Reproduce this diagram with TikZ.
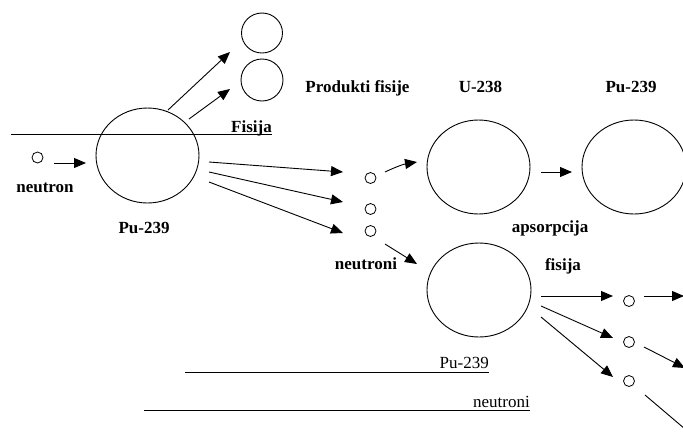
\documentclass[tikz,border=0pt]{standalone}
\usepackage{fontspec}
\setmainfont{Liberation Serif}
\usetikzlibrary{arrows.meta,shapes.geometric}
\begin{document}
\begin{tikzpicture}[x=1pt,y=-1pt,
  atom/.style={draw,ellipse,inner sep=0pt,line width=0.9pt},
  neu/.style={draw,circle,inner sep=0pt,minimum size=11pt,line width=0.8pt},
  arr/.style={-{Triangle[length=12pt,width=10pt]},line width=0.9pt},
  lbl/.style={font=\fontsize{17}{20}\selectfont\bfseries,anchor=base,inner sep=0pt},
  rlbl/.style={font=\fontsize{17}{20}\selectfont,anchor=base,inner sep=0pt},
  rule/.style={line width=0.9pt}]
\useasboundingbox (0,0) rectangle (683,437);
\clip (0,0) rectangle (683,437);
% atoms
\node[atom,minimum width=103pt,minimum height=95pt] (pu) at (147.5,155.5) {};
\node[atom,minimum width=41pt,minimum height=40pt] (fp1) at (262,33) {};
\node[atom,minimum width=42pt,minimum height=42pt] (fp2) at (262,80) {};
\node[atom,minimum width=103pt,minimum height=94pt] (u) at (478.5,167) {};
\node[atom,minimum width=104pt,minimum height=94pt] (pu2) at (634,167) {};
\node[atom,minimum width=104pt,minimum height=94pt] (pu3) at (479,290) {};
% neutrons
\node[neu] (n0) at (37.5,157.5) {};
\node[neu] (n1) at (370.5,178) {};
\node[neu] (n2) at (370.5,209) {};
\node[neu] (n3) at (370.5,231) {};
\node[neu] (n4) at (629,301) {};
\node[neu] (n5) at (629,342) {};
\node[neu] (n6) at (629,381) {};
% labels
\node[lbl] (tfis) at (251.5,132) {Fisija};
\node[lbl] (tneu) at (45,192) {neutron};
\node[lbl] (tpu) at (144,233) {Pu-239};
\node[lbl] (tprod) at (357.5,92) {Produkti fisije};
\node[lbl] (tu) at (480.5,92) {U-238};
\node[lbl] (tpu2) at (631,92) {Pu-239};
\node[lbl] (taps) at (550,232) {apsorpcija};
\node[lbl] (tneus) at (366,269) {neutroni};
\node[lbl] (tfis2) at (563,270) {fisija};
\node[rlbl,anchor=base east] (lpu) at (489,368) {Pu-239};
\node[rlbl,anchor=base east] (lneu) at (530,407) {neutroni};
% rules
\coordinate (r1a) at (11,134); \coordinate (r1b) at (272,134);
\coordinate (r2a) at (185,372); \coordinate (r2b) at (489,372);
\coordinate (r3a) at (144,410); \coordinate (r3b) at (530,410);
\draw[rule] (r1a) -- (r1b);
\draw[rule] (r2a) -- (r2b);
\draw[rule] (r3a) -- (r3b);
% arrow end points
\coordinate (a0s) at (54,163);   \coordinate (a0e) at (86,163);
\coordinate (a1s) at (168,110);  \coordinate (a1e) at (230,52);
\coordinate (a2s) at (189,119);  \coordinate (a2e) at (230,89);
\coordinate (a3s) at (209,162);  \coordinate (a3e) at (343,172);
\coordinate (a4s) at (209,172);  \coordinate (a4e) at (343,202);
\coordinate (a5s) at (209,182);  \coordinate (a5e) at (343,233);
\coordinate (a6s) at (385,172);  \coordinate (a6e) at (417,162);
\coordinate (a7s) at (541,172);  \coordinate (a7e) at (572,172);
\coordinate (a8s) at (385,244);  \coordinate (a8e) at (417,264);
\coordinate (a9s) at (541,296);  \coordinate (a9e) at (613,296);
\coordinate (a10s) at (541,306); \coordinate (a10e) at (613,338);
\coordinate (a11s) at (541,317); \coordinate (a11e) at (613,377);
\coordinate (a12s) at (644,296); \coordinate (a12e) at (684,296);
\coordinate (a13s) at (644,347); \coordinate (a13e) at (685,368);
\coordinate (a14s) at (645,395); \coordinate (a14e) at (705,446);
\draw[arr] (a0s) -- (a0e);
\draw[arr] (a1s) -- (a1e);
\draw[arr] (a2s) -- (a2e);
\draw[arr] (a3s) -- (a3e);
\draw[arr] (a4s) -- (a4e);
\draw[arr] (a5s) -- (a5e);
\draw[arr] (a6s) to[bend left=8] (a6e);
\draw[arr] (a7s) -- (a7e);
\draw[arr] (a8s) -- (a8e);
\draw[arr] (a9s) -- (a9e);
\draw[arr] (a10s) -- (a10e);
\draw[arr] (a11s) -- (a11e);
\draw[arr] (a12s) -- (a12e);
\draw[arr] (a13s) -- (a13e);
\draw[arr] (a14s) -- (a14e);
\end{tikzpicture}
\end{document}
